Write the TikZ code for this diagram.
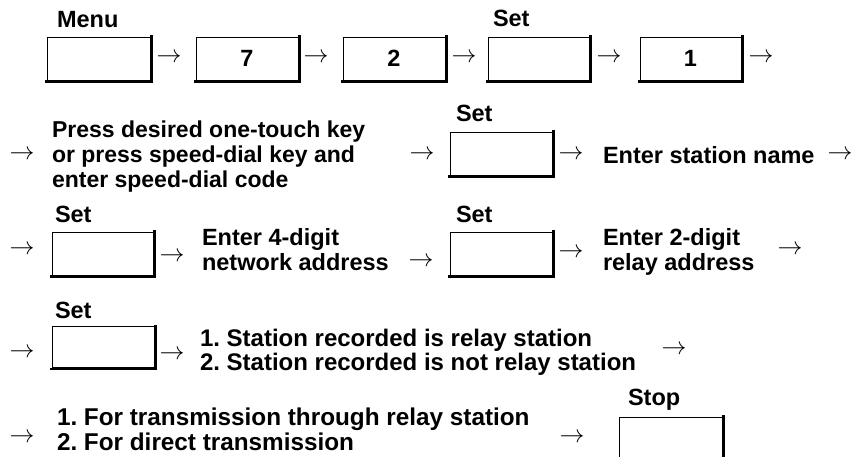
\documentclass[tikz,border=0pt]{standalone}
\usepackage{fontspec}
\setmainfont{Liberation Sans}
\frenchspacing
\tikzset{
  txt/.style={inner sep=0pt, outer sep=0pt, anchor=base west, font=\fontsize{23.5}{25}\selectfont\bfseries},
  arr/.style={inner sep=0pt, outer sep=0pt, font=\fontsize{26}{28}\selectfont},
  keybox/.style={draw=black, line width=1pt, inner sep=0pt, font=\fontsize{23.5}{25}\selectfont\bfseries},
  keyshadow/.style={draw=black, line width=2.6pt, line cap=rect}
}
\newcommand\KeyBox[6]{%
  \node[keybox, minimum width=#4pt, minimum height=#5pt] (#1) at (#2,#3) {#6};
  \draw[keyshadow] ([xshift=0.8pt]#1.north east) -- ([xshift=0.8pt,yshift=-0.8pt]#1.south east) -- ([yshift=-0.8pt]#1.south west);
}
\newcommand\Arr[3]{\node[arr] (#1) at (#2,#3) {$\rightarrow$};}
\begin{document}
\begin{tikzpicture}[x=1pt,y=-1pt]
\useasboundingbox (0,0) rectangle (860,456);
\clip (0,0) rectangle (860,456);
% Row 1
\node[txt] (lblMenu) at (57,27) {Menu};
\KeyBox{b1}{98.5}{58.5}{103}{43}{}
\Arr{a1}{169}{58}
\KeyBox{b2}{247}{58.5}{102}{43}{7}
\Arr{a2}{316}{58}
\KeyBox{b3}{394}{58.5}{102}{43}{2}
\Arr{a3}{464}{58}
\node[txt] (lblSetA) at (493,26) {Set};
\KeyBox{b4}{538.5}{58.5}{101}{43}{}
\Arr{a4}{609}{58}
\KeyBox{b5}{690.5}{58.5}{101}{43}{1}
\Arr{a5}{761}{58}
% Row 2
\Arr{a6}{22}{155}
\node[txt, font=\fontsize{23}{25}\selectfont\bfseries] (t1) at (52,137) {\begin{tabular}[t]{@{}l@{}}Press desired one-touch key\\or press speed-dial key and\\enter speed-dial code\end{tabular}};
\Arr{a7}{422}{155}
\node[txt] (lblSetB) at (456,121) {Set};
\KeyBox{b6}{501}{153.5}{102}{43}{}
\Arr{a8}{571}{155}
\node[txt] (t2) at (603,163) {Enter station name};
\Arr{a9}{840}{155}
% Row 3
\Arr{a10}{22}{250}
\node[txt] (lblSetC) at (55,222) {Set};
\KeyBox{b7}{102.5}{253.5}{101}{43}{}
\Arr{a11}{172}{257}
\node[txt] (t3) at (202,245) {\begin{tabular}[t]{@{}l@{}}Enter 4-digit\\network address\end{tabular}};
\Arr{a12}{421}{262}
\node[txt] (lblSetD) at (456,222) {Set};
\KeyBox{b8}{501}{253.5}{102}{43}{}
\Arr{a13}{571}{253}
\node[txt] (t4) at (603,245) {\begin{tabular}[t]{@{}l@{}}Enter 2-digit\\relay address\end{tabular}};
\Arr{a14}{790}{250}
% Row 4
\Arr{a15}{22}{353}
\node[txt] (lblSetE) at (55,318) {Set};
\KeyBox{b9}{103}{347}{102}{41}{}
\Arr{a16}{172}{355}
\node[txt, font=\fontsize{24}{24}\selectfont\bfseries] (t5) at (200,346) {\begin{tabular}[t]{@{}l@{}}1. Station recorded is relay station\\2. Station recorded is not relay station\end{tabular}};
\Arr{a17}{674}{350}
% Row 5
\Arr{a18}{22}{438}
\node[txt, font=\fontsize{24.3}{25}\selectfont\bfseries] (t6) at (57,425) {\begin{tabular}[t]{@{}l@{}}1. For transmission through relay station\\2. For direct transmission\end{tabular}};
\Arr{a19}{572}{438}
\node[txt] (lblStop) at (628,405) {Stop};
\KeyBox{b10}{670.5}{440}{103}{46}{}
\end{tikzpicture}
\end{document}
